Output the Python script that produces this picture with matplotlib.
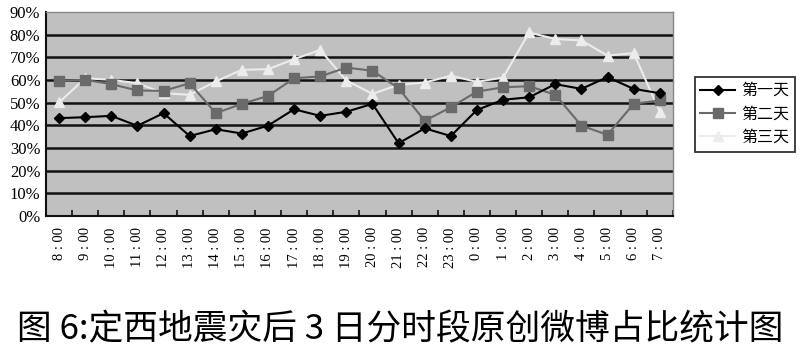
import matplotlib
matplotlib.use("Agg")
import matplotlib.pyplot as plt
import numpy as np

hours = ["8 : 00", "9 : 00", "10 : 00", "11 : 00", "12 : 00", "13 : 00", "14 : 00", "15 : 00",
         "16 : 00", "17 : 00", "18 : 00", "19 : 00", "20 : 00", "21 : 00", "22 : 00", "23 : 00",
         "0 : 00", "1 : 00", "2 : 00", "3 : 00", "4 : 00", "5 : 00", "6 : 00", "7 : 00"]
day1 = [43.2, 43.6, 44.2, 39.8, 45.4, 35.3, 38.3, 36.4, 39.9, 47.1, 44.2, 46.0,
        49.5, 32.1, 38.7, 35.3, 46.8, 51.3, 52.4, 58.2, 56.1, 61.3, 56.1, 54.2]
day2 = [59.6, 60.1, 58.2, 55.4, 55.2, 58.6, 45.4, 49.5, 53.0, 60.8, 61.6, 65.5,
        64.1, 56.4, 42.0, 48.0, 54.9, 56.8, 57.3, 53.5, 39.9, 35.8, 49.5, 51.0]
day3 = [50.1, 60.8, 60.1, 58.6, 54.2, 53.5, 59.4, 64.5, 64.8, 69.2, 73.3, 59.8,
        53.9, 57.9, 58.9, 61.9, 59.2, 61.1, 81.0, 78.1, 77.5, 70.8, 71.9, 46.1]
series_names = ["第一天", "第二天", "第三天"]
yticks = [0, 10, 20, 30, 40, 50, 60, 70, 80, 90]
title = "图 6:定西地震灾后 3 日分时段原创微博占比统计图"

plt.rcParams['font.family'] = ['Noto Sans CJK SC', 'DejaVu Sans']

fig = plt.figure(figsize=(8, 3.55), dpi=100)
ax = fig.add_axes([0.0575, 0.3915, 0.7835, 0.5745])
ax.set_facecolor("#c0c0c0")

x = np.arange(len(hours))
ax.plot(x, day1, color="#000000", lw=1.5, marker="D", ms=5.5, label=series_names[0], zorder=5)
ax.plot(x, day2, color="#6a6a6a", lw=1.5, marker="s", ms=7, label=series_names[1], zorder=4)
ax.plot(x, day3, color="#ececec", lw=1.5, marker="^", ms=7, label=series_names[2], zorder=3)

ax.set_xlim(-0.5, len(hours) - 0.5)
ax.set_ylim(0, 90)
ax.set_yticks(yticks)
ax.set_yticklabels([f"{v}%" for v in yticks], family=['Liberation Serif'], fontsize=12)
for v in yticks[1:-1]:
    ax.axhline(v, color="#111111", lw=1.8, zorder=1)
ax.tick_params(axis='y', length=0, pad=4)

ax.set_xticks(x)
ax.set_xticklabels(hours, rotation=90, family=['Liberation Serif'], fontsize=10.5)
ax.tick_params(axis='x', which='major', length=0, pad=8)
ax.set_xticks(np.arange(-0.5, len(hours), 1.0), minor=True)
ax.tick_params(axis='x', which='minor', direction='in', length=4, width=1.2, color="#111111")

for s in ['left', 'bottom']:
    ax.spines[s].set_color("#111111")
    ax.spines[s].set_linewidth(1.5)
for s in ['top', 'right']:
    ax.spines[s].set_color("#888888")
    ax.spines[s].set_linewidth(1.0)

leg = ax.legend(loc='center left', bbox_to_anchor=(1.035, 0.5), frameon=True,
                fancybox=False, edgecolor="#000000", fontsize=11.5,
                handlelength=2.2, handletextpad=0.35, borderpad=0.35,
                labelspacing=0.4, borderaxespad=0)
leg.get_frame().set_linewidth(1.3)

fig.text(0.5, 0.07, title, ha='center', va='center', fontsize=25)

fig.savefig("out.png", dpi=100, facecolor="white")
